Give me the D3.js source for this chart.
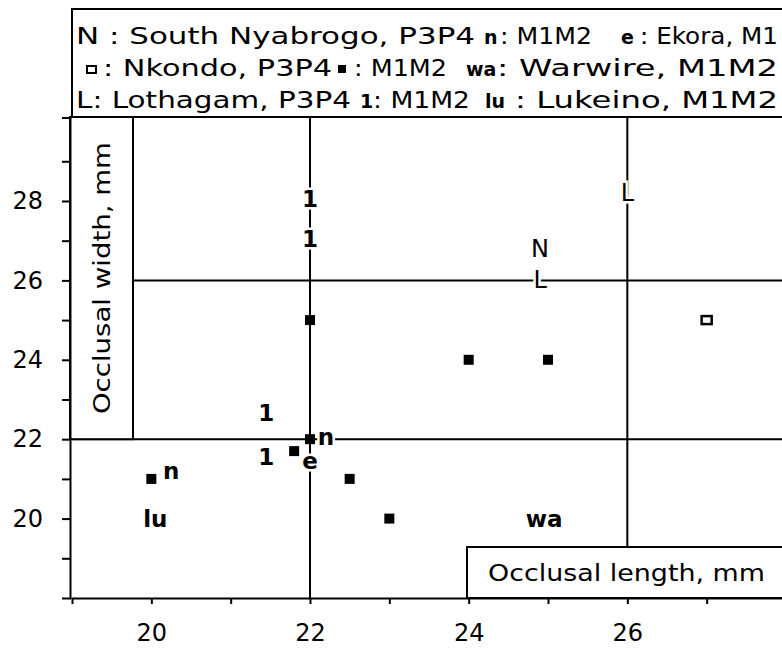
<!DOCTYPE html>
<html>
<head>
<meta charset="utf-8">
<script src="https://cdn.jsdelivr.net/npm/d3@7"></script>
<style>
  body { margin: 0; background: #fff; }
  svg { display: block; font-family: "DejaVu Sans", sans-serif; }
  .axis path, .axis line { stroke: #000; stroke-width: 2; }
  .mark { text-anchor: middle; dominant-baseline: central;
          stroke: #fff; stroke-width: 5px; paint-order: stroke; }
</style>
</head>
<body>
<div id="chart"></div>
<script>
// values: [length, width]
const lothagamP3P4 = [[26, 28.2], [24.9, 26.0]];
const lothagamM1M2 = [[22, 28.05], [22, 27.05], [21.45, 22.65], [21.45, 21.55]];
const nyabrogoP3P4 = [[24.9, 26.8]];
const nyabrogoM1M2 = [[20.25, 21.2], [22.2, 22.05]];
const nkondoP3P4 = [[27, 25]];
const nkondoM1M2 = [[22, 25], [24, 24], [25, 24], [22, 22], [21.8, 21.7], [22.5, 21], [23, 20], [20, 21]];
const ekoraM1 = [[22, 21.45]];
const warwireM1M2 = [[24.95, 20]];
const lukeinoM1M2 = [[20.05, 20]];

const refX = [22, 26];
const refY = [22, 26];
const xTicks = [20, 21, 22, 23, 24, 25, 26, 27];
const yTicks = [19, 20, 21, 22, 23, 24, 25, 26, 27, 28, 29];

const legendRows = [
  [{t: "N : South Nyabrogo, P3P4"}, {t: "n", b: 1}, {t: ": M1M2"}, {t: "e", b: 1}, {t: ": Ekora, M1"}],
  [{sym: "open"}, {t: ": Nkondo, P3P4"}, {sym: "fill"}, {t: ": M1M2"}, {t: "wa", b: 1}, {t: ": Warwire, M1M2"}],
  [{t: "L: Lothagam, P3P4"}, {t: "1", b: 1}, {t: ": M1M2"}, {t: "lu", b: 1}, {t: ": Lukeino, M1M2"}]
];
// where each legend piece starts and how wide it runs
const legendPos = [
  [[76, 399], [484, 0], [500, 92], [621, 0], [640, 138]],
  [[91, 0], [103, 229], [342, 0], [354, 93], [466, 0], [497, 281]],
  [[76, 275], [360, 0], [373, 97], [485, 0], [515, 263]]
];

var W = 782, H = 649;
var svg = d3.select("#chart").append("svg").attr("width", W).attr("height", H);

var x = d3.scaleLinear().domain([19, 28]).range([72, 786]);
var y = d3.scaleLinear().domain([18, 30.1]).range([598, 117.6]);
var left = 70, plotTop = 117, bottom = 598;

// reference lines
svg.append("line").attr("x1", x(refX[0])).attr("x2", x(refX[0])).attr("y1", plotTop).attr("y2", bottom)
  .attr("stroke", "#000").attr("stroke-width", 2);
svg.append("line").attr("x1", x(refX[1])).attr("x2", x(refX[1])).attr("y1", plotTop).attr("y2", 547)
  .attr("stroke", "#000").attr("stroke-width", 2);
svg.append("line").attr("x1", left).attr("x2", W).attr("y1", y(refY[0])).attr("y2", y(refY[0]))
  .attr("stroke", "#000").attr("stroke-width", 2);
svg.append("line").attr("x1", 133).attr("x2", W).attr("y1", y(refY[1])).attr("y2", y(refY[1]))
  .attr("stroke", "#000").attr("stroke-width", 2);

// axis label boxes
svg.append("rect").attr("x", left).attr("y", plotTop).attr("width", 133 - left).attr("height", y(22) - plotTop)
  .attr("fill", "#fff").attr("stroke", "#000").attr("stroke-width", 2);
svg.append("text").attr("transform", "translate(110," + ((plotTop + y(22)) / 2) + ") rotate(-90)")
  .attr("text-anchor", "middle").style("font-size", "23px")
  .attr("textLength", 272).attr("lengthAdjust", "spacingAndGlyphs").text("Occlusal width, mm");

svg.append("rect").attr("x", 467).attr("y", 547).attr("width", 330).attr("height", bottom - 547)
  .attr("fill", "#fff").attr("stroke", "#000").attr("stroke-width", 2);
svg.append("text").attr("x", 488).attr("y", 581).style("font-size", "23px")
  .attr("textLength", 277).attr("lengthAdjust", "spacingAndGlyphs").text("Occlusal length, mm");

// axes
var gx = svg.append("g").attr("class", "axis").attr("transform", "translate(0," + bottom + ")")
  .call(d3.axisBottom(x).tickValues(xTicks).tickSizeOuter(0).tickSize(6).tickPadding(20)
    .tickFormat(d => d % 2 == 0 ? d : ""));
var gy = svg.append("g").attr("class", "axis").attr("transform", "translate(" + left + ",0)")
  .call(d3.axisLeft(y).tickValues(yTicks).tickSizeOuter(0).tickSize(8).tickPadding(19)
    .tickFormat(d => d % 2 == 0 ? d : ""));
svg.selectAll(".axis").attr("font-family", null).attr("font-size", null);
svg.selectAll(".axis text").style("font-size", "24px").attr("fill", "#000");
svg.selectAll(".axis .domain").attr("stroke-width", 2.5);

// legend
svg.append("rect").attr("x", 72).attr("y", 9).attr("width", 730).attr("height", plotTop - 9)
  .attr("fill", "#fff").attr("stroke", "#000").attr("stroke-width", 2);
var rowY = [44, 76, 108];
legendRows.forEach(function(row, i){
  row.forEach(function(p, j){
    var px = legendPos[i][j][0], pw = legendPos[i][j][1];
    if (p.sym == "open") {
      svg.append("rect").attr("x", px - 4).attr("y", rowY[i] - 10).attr("width", 9).attr("height", 7)
        .attr("fill", "none").attr("stroke", "#000").attr("stroke-width", 2);
    } else if (p.sym == "fill") {
      svg.append("rect").attr("x", px - 4).attr("y", rowY[i] - 11).attr("width", 8).attr("height", 8)
        .attr("fill", "#000");
    } else {
      var t = svg.append("text").attr("x", px).attr("y", rowY[i]).text(p.t);
      if (p.b) t.style("font-size", "19px").style("font-weight", "bold");
      else t.style("font-size", "23px").attr("textLength", pw).attr("lengthAdjust", "spacingAndGlyphs");
    }
  });
});

// marks
function letters(data, s, bold){
  svg.append("g").selectAll("text").data(data).enter().append("text")
    .attr("class", "mark")
    .attr("x", d => x(d[0])).attr("y", d => y(d[1]))
    .style("font-size", bold ? "23px" : "24px")
    .style("font-weight", bold ? "bold" : "normal")
    .text(s);
}
letters(lothagamP3P4, "L", false);
letters(nyabrogoP3P4, "N", false);
letters(lothagamM1M2, "1", true);
letters(nyabrogoM1M2, "n", true);
letters(ekoraM1, "e", true);
letters(warwireM1M2, "wa", true);
letters(lukeinoM1M2, "lu", true);

svg.append("g").selectAll("rect").data(nkondoM1M2).enter().append("rect")
  .attr("x", d => x(d[0]) - 5).attr("y", d => y(d[1]) - 5)
  .attr("width", 10).attr("height", 10).attr("fill", "#000");
svg.append("g").selectAll("rect").data(nkondoP3P4).enter().append("rect")
  .attr("x", d => x(d[0]) - 5).attr("y", d => y(d[1]) - 4)
  .attr("width", 10).attr("height", 8).attr("fill", "#fff").attr("stroke", "#000").attr("stroke-width", 2.5);
</script>
</body>
</html>
